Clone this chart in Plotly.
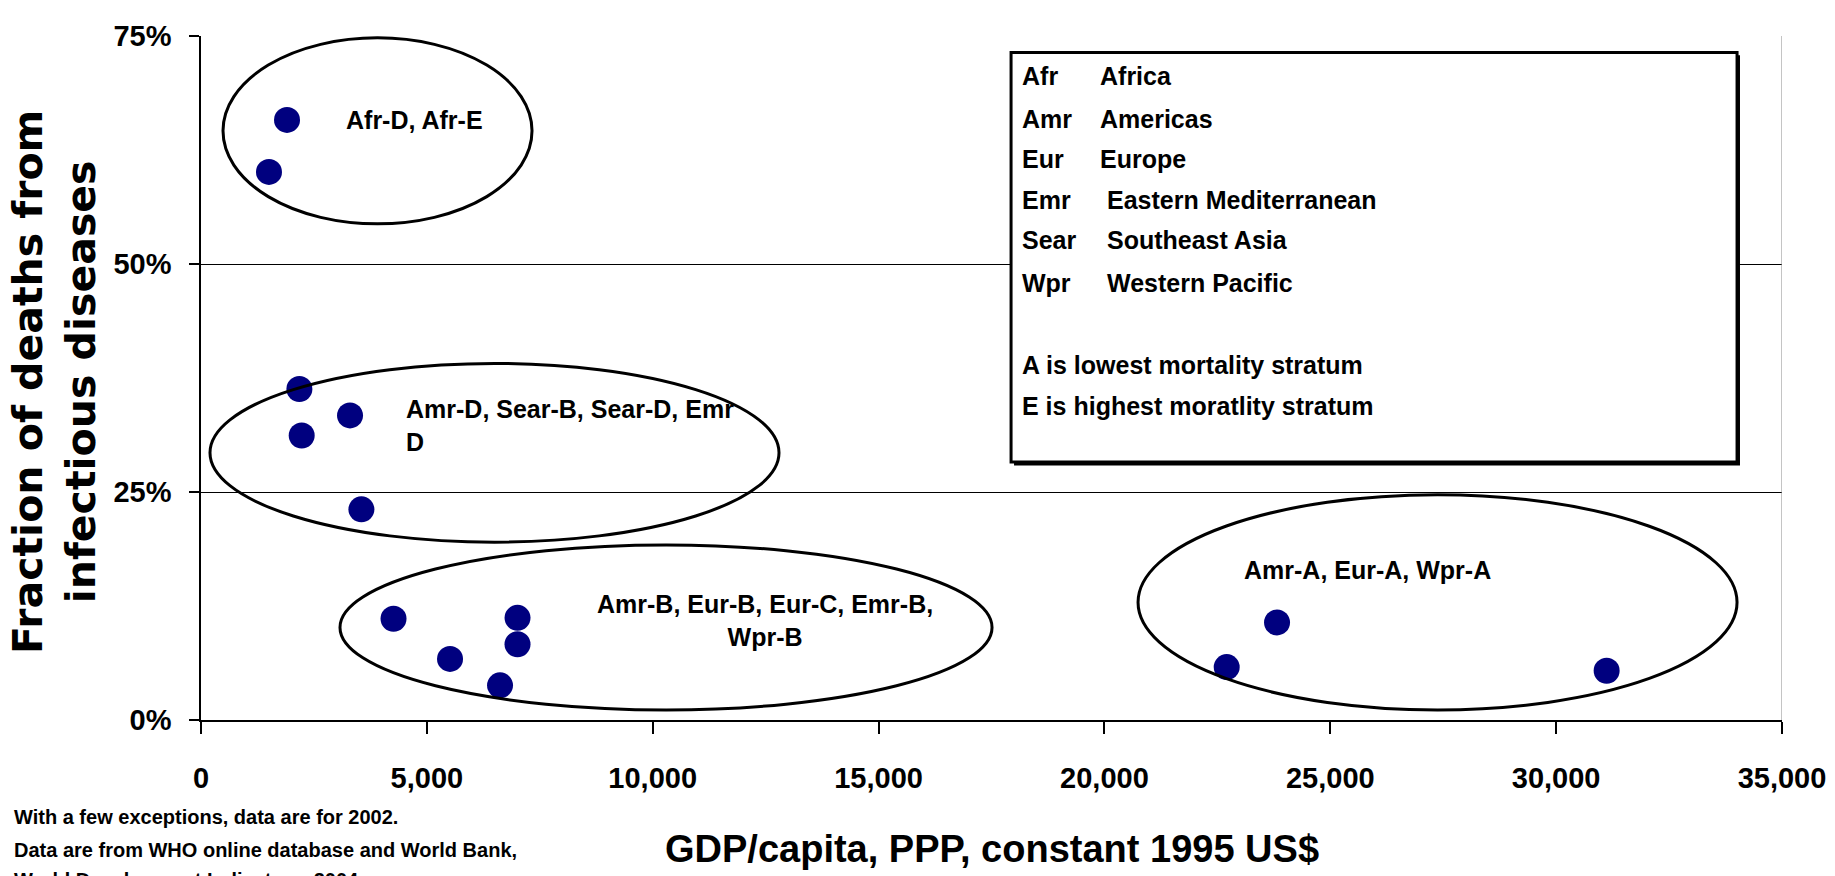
import plotly.graph_objects as go

# GDP per capita (PPP, constant 1995 US$) and share of deaths from infectious diseases
gdp = [1904, 1505, 2178, 2229, 3299, 3551, 4262, 5513, 7007, 7007, 6620, 22707, 23821, 31118]
frac_infectious = [0.658, 0.601, 0.363, 0.312, 0.334, 0.231, 0.111, 0.067, 0.112, 0.083, 0.038, 0.058, 0.107, 0.054]

y_ticks = [0, 0.25, 0.50, 0.75]
y_tick_labels = ["0%", "25%", "50%", "75%"]
x_ticks = [0, 5000, 10000, 15000, 20000, 25000, 30000, 35000]

# cluster labels and the ellipses drawn round them
group_labels = ["Afr-D, Afr-E",
                "Amr-D, Sear-B, Sear-D, Emr<br>D",
                "Amr-B, Eur-B, Eur-C, Emr-B,<br>Wpr-B",
                "Amr-A, Eur-A, Wpr-A"]

legend_abbr = ["Afr", "Amr", "Eur", "Emr", "Sear", "Wpr"]
legend_names = ["Africa", "Americas", "Europe", "Eastern Mediterranean", "Southeast Asia", "Western Pacific"]
legend_notes = ["A is lowest mortality stratum", "E is highest moratlity stratum"]

footnotes = ["With a few exceptions, data are for 2002.",
             "Data are from WHO online database and World Bank,",
             "World Development Indicators, 2004"]

FONT = "Liberation Sans, Arial, sans-serif"

fig = go.Figure()

fig.add_trace(go.Scatter(
    x=gdp, y=frac_infectious, mode="markers",
    marker=dict(color="#00007f", size=26, line=dict(width=0)),
    showlegend=False, hoverinfo="skip"
))

# ellipses round the clusters (x0, x1, y0, y1)
ellipses = [(487, 7328, 0.544, 0.748),
            (199, 12796, 0.195, 0.391),
            (3077, 17512, 0.011, 0.192),
            (20744, 34005, 0.011, 0.247)]
for x0, x1, y0, y1 in ellipses:
    fig.add_shape(type="circle", xref="x", yref="y", x0=x0, x1=x1, y0=y0, y1=y1,
                  line=dict(color="black", width=3), layer="above")

label_pos = [(4716, 0.658, "center", "center"),
             (4494, 0.323, "left", "left"),
             (12490, 0.1095, "center", "center"),
             (25826, 0.165, "center", "center")]
for text, (lx, ly, anchor, align) in zip(group_labels, label_pos):
    fig.add_annotation(x=lx, y=ly, text=text, showarrow=False, xanchor=anchor, align=align,
                       yanchor="middle", font=dict(family=FONT, size=25, color="black", weight="bold"))

# legend box with a shadow
fig.add_shape(type="rect", xref="x", yref="y", x0=17999, x1=34070, y0=0.279, y1=0.729,
              fillcolor="black", line=dict(color="black", width=0))
fig.add_shape(type="rect", xref="x", yref="y", x0=17933, x1=34005, y0=0.283, y1=0.732,
              fillcolor="white", line=dict(color="black", width=3))

line_y = [0.706, 0.659, 0.615, 0.570, 0.526, 0.479]
name_x = [19858, 19858, 19858, 20013, 20013, 20013]
for abbr, name, ly, nx in zip(legend_abbr, legend_names, line_y, name_x):
    fig.add_annotation(x=18131, y=ly, text=abbr, showarrow=False, xanchor="left", yanchor="middle",
                       font=dict(family=FONT, size=25, color="black", weight="bold"))
    fig.add_annotation(x=nx, y=ly, text=name, showarrow=False, xanchor="left", yanchor="middle",
                       font=dict(family=FONT, size=25, color="black", weight="bold"))
for note, ly in zip(legend_notes, [0.389, 0.344]):
    fig.add_annotation(x=18131, y=ly, text=note, showarrow=False, xanchor="left", yanchor="middle",
                       font=dict(family=FONT, size=25, color="black", weight="bold"))

# right edge of the plot area
fig.add_shape(type="line", xref="x", yref="y", x0=35000, x1=35000, y0=0, y1=0.75,
              line=dict(color="#888888", width=1))

# axis titles
fig.add_annotation(xref="paper", yref="paper", x=-0.093, y=0.494, textangle=-90,
                   text="Fraction of deaths from<br>infectious diseases", showarrow=False,
                   xanchor="center", yanchor="middle",
                   font=dict(family="DejaVu Sans", size=41, color="black", weight="bold"))
fig.add_annotation(xref="paper", yref="paper", x=0.5, y=-0.1888,
                   text="GDP/capita, PPP, constant 1995 US$", showarrow=False,
                   xanchor="center", yanchor="middle",
                   font=dict(family=FONT, size=38, color="black", weight="bold"))

for note, fy in zip(footnotes, [-0.1412, -0.1902, -0.2335]):
    fig.add_annotation(xref="paper", yref="paper", x=-0.1195, y=fy, text=note, showarrow=False,
                       xanchor="left", yanchor="middle",
                       font=dict(family=FONT, size=20, color="black", weight="bold"))

fig.update_layout(
    width=1835, height=876,
    margin=dict(l=193, r=61, t=18, b=164),
    plot_bgcolor="white", paper_bgcolor="white",
    xaxis=dict(range=[0, 35000], tickvals=x_ticks, tickformat=",", showgrid=False, zeroline=False,
               showline=True, linecolor="black", linewidth=1.5,
               ticks="outside", ticklen=12, tickcolor="black", tickwidth=1.5,
               ticklabelstandoff=19,
               tickfont=dict(family=FONT, size=29, color="black", weight="bold")),
    yaxis=dict(range=[0, 0.75], tickvals=y_ticks, ticktext=y_tick_labels, showgrid=True,
               gridcolor="black", gridwidth=1, zeroline=False,
               showline=True, linecolor="black", linewidth=1.5,
               ticks="outside", ticklen=10, tickcolor="black", tickwidth=1.5,
               ticklabelstandoff=12,
               tickfont=dict(family=FONT, size=29, color="black", weight="bold")),
)

fig.write_html("out.html")
